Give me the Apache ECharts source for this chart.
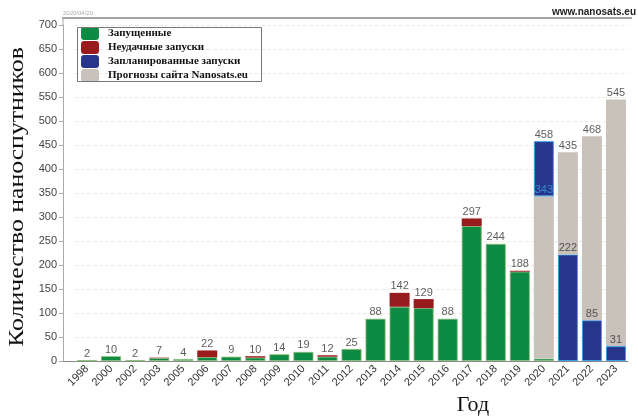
<!DOCTYPE html>
<html><head><meta charset="utf-8">
<script src="https://cdn.jsdelivr.net/npm/echarts@6/dist/echarts.min.js"></script>
<style>html,body{margin:0;padding:0;background:#fff}#c{width:638px;height:419px}</style>
</head><body><div id="c"></div>
<script>
const years = ['1998','2000','2002','2003','2005','2006','2007','2008','2009','2010','2011','2012','2013','2014','2015','2016','2017','2018','2019','2020','2021','2022','2023'];
const launched   = [2,10,2,6,4,8,9,7,14,19,9,25,88,113,110,88,281,244,186,5,'-','-','-'];
const failed     = ['-','-','-',1,'-',14,'-',3,'-','-',3,'-','-',29,19,'-',16,'-',2,'-','-','-','-'];
const plannedLow = ['-','-','-','-','-','-','-','-','-','-','-','-','-','-','-','-','-','-','-','-',222,85,31];
const forecast   = ['-','-','-','-','-','-','-','-','-','-','-','-','-','-','-','-','-','-','-',338,213,383,514];
const plannedHigh= ['-','-','-','-','-','-','-','-','-','-','-','-','-','-','-','-','-','-','-',115,'-','-','-'];
const totals     = [2,10,2,7,4,22,9,10,14,19,12,25,88,142,129,88,297,244,188,458,435,468,545];
const plannedMarks = ['-','-','-','-','-','-','-','-','-','-','-','-','-','-','-','-','-','-','-',343,222,85,31];
const yTicks = {min:0, max:700, interval:50};
const legendNames = ['Запущенные','Неудачные запуски','Запланированные запуски','Прогнозы сайта Nanosats.eu'];

const C = {green:'#0d8a43', red:'#981b1d', blue:'#27358a', gray:'#c9c2bb'};
const chart = echarts.init(document.getElementById('c'));
const sansFont = 'Liberation Sans';
const barBase = {type:'bar', stack:'s', barWidth:20};
chart.setOption({
  animation:false,
  grid:{left:75, right:10, top:25, bottom:58},
  legend:{show:true, data:legendNames, orient:'vertical', left:81, top:27, padding:0,
    itemWidth:18, itemHeight:13, itemGap:1,
    textStyle:{fontFamily:'Liberation Serif', fontWeight:'bold', fontSize:11, color:'#111', padding:[0,0,0,4]},
    itemStyle:{borderWidth:0}},
  xAxis:{type:'category', data:years,
    axisLine:{lineStyle:{color:'#888', width:1}}, axisTick:{show:false},
    axisLabel:{rotate:45, fontSize:11, color:'#333', fontFamily:sansFont, margin:6, interval:0}},
  yAxis:{type:'value', min:yTicks.min, max:yTicks.max, interval:yTicks.interval, offset:12,
    axisLine:{show:true, lineStyle:{color:'#aaa'}}, axisTick:{show:true, length:4, lineStyle:{color:'#aaa'}},
    axisLabel:{fontSize:11, color:'#444', fontFamily:sansFont, margin:6},
    splitLine:{show:true, lineStyle:{color:'#eeeae6', type:'dashed'}}},
  graphic:[
    {type:'line', shape:{x1:62,y1:18,x2:632,y2:18}, style:{stroke:'#8a8680', lineWidth:1.5}},
    {type:'line', shape:{x1:63,y1:18,x2:63,y2:25}, style:{stroke:'#aaa', lineWidth:1}},
    {type:'line', shape:{x1:63,y1:361.5,x2:75,y2:361.5}, style:{stroke:'#888', lineWidth:1}},
    {type:'rect', shape:{x:77.5,y:27.5,width:184,height:54}, style:{fill:'none', stroke:'#777', lineWidth:1}, z:10},
    {type:'text', left:63, top:10, style:{text:'2020/04/20', fontSize:6, fill:'#aaa', fontFamily:sansFont}},
    {type:'text', right:2, top:7, style:{text:'www.nanosats.eu', fontSize:10, fill:'#222', fontFamily:sansFont, fontWeight:'bold'}},
    {type:'text', x:17, y:197, rotation:Math.PI/2, scaleX:1.17, style:{text:'Количество наноспутников', fontSize:22, fill:'#111', fontFamily:'Liberation Serif', textAlign:'center', textVerticalAlign:'middle'}},
    {type:'text', x:473, y:405, style:{text:'Год', fontSize:22, fill:'#111', fontFamily:'Liberation Serif', textAlign:'center', textVerticalAlign:'middle'}}
  ],
  series:[
    Object.assign({name:legendNames[0], data:launched, itemStyle:{color:C.green, borderColor:'#8cc07a', borderWidth:0.8}}, barBase),
    Object.assign({name:legendNames[1], data:failed, itemStyle:{color:C.red}}, barBase),
    Object.assign({name:legendNames[2], data:plannedLow, itemStyle:{color:C.blue, borderColor:'#3e9de0', borderWidth:1}}, barBase),
    Object.assign({name:legendNames[3], data:forecast, itemStyle:{color:C.gray}}, barBase),
    Object.assign({name:legendNames[2], data:plannedHigh, itemStyle:{color:C.blue, borderColor:'#3e9de0', borderWidth:1}}, barBase),
    {type:'scatter', symbolSize:0, data:totals, z:20, silent:true,
      label:{show:true, position:'top', distance:1, fontSize:11, color:'#333', fontFamily:sansFont}},
    {type:'scatter', symbolSize:0, z:20, silent:true,
      data:plannedMarks.map((v,i)=> years[i]==='2020' ? {value:v, label:{color:'#3e9de0'}} : v),
      label:{show:true, position:'top', distance:1, fontSize:11, color:'#333', fontFamily:sansFont}}
  ]
});
</script></body></html>
